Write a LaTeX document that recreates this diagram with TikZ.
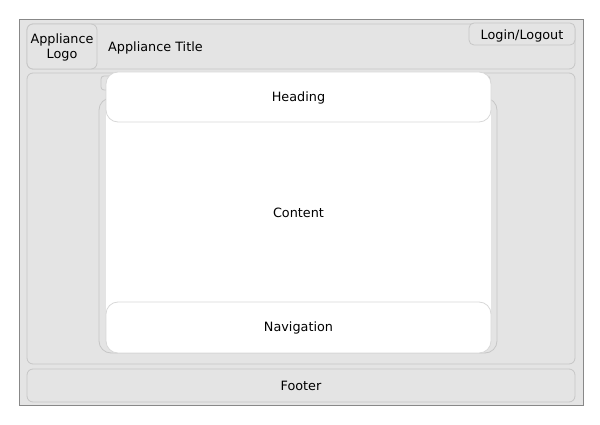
\documentclass[tikz,border=0pt]{standalone}
\usepackage{fontspec}
\setmainfont{DejaVu Sans}
\definecolor{panel}{HTML}{E4E4E4}
\definecolor{edge}{HTML}{C6C6C6}
\definecolor{frameline}{HTML}{888888}
\definecolor{whiteedge}{HTML}{D8D8D8}
\tikzset{
  graybox/.style={draw=edge, fill=panel, rounded corners=6pt, line width=0.8pt},
  whitebox/.style={draw=whiteedge, fill=white, rounded corners=12pt, line width=0.8pt},
  lbl/.style={font=\fontsize{12.8}{15}\selectfont, text=black, align=center, inner sep=0pt},
}
\begin{document}
\begin{tikzpicture}[x=1pt, y=-1pt]
\useasboundingbox (0,0) rectangle (600,425);
% outer frame
\draw[draw=frameline, fill=panel, line width=1pt] (19.5,19.5) rectangle (583.5,405) ;
% header
\draw[graybox] (27,24) rectangle (575,69);
\draw[graybox] (27,24) rectangle (97,69);
\node[lbl] (logo) at (62,47.5) {Appliance\\Logo};
\node[lbl, anchor=west] (title) at (108,47.5) {Appliance Title};
\draw[graybox, rounded corners=5pt] (469,23) rectangle (575,45);
\node[lbl] (login) at (522,35.5) {Login/Logout};
% body
\draw[graybox] (27,73) rectangle (575,364);
\draw[graybox, rounded corners=3pt] (101,76) rectangle (490,90);
\draw[graybox, rounded corners=12pt] (99,98) rectangle (497,353);
% content area
\fill[white] (106,110) rectangle (491,315);
\node[lbl] (content) at (298.5,213) {Content};
% heading
\draw[whitebox] (106,72) rectangle (491,122);
\node[lbl] (heading) at (298.5,97.5) {Heading};
% navigation
\draw[whitebox] (106,302) rectangle (491,353);
\node[lbl] (nav) at (298.5,327.5) {Navigation};
% footer
\draw[graybox] (27,369) rectangle (575,402);
\node[lbl] (footer) at (301,385.5) {Footer};
\end{tikzpicture}
\end{document}
